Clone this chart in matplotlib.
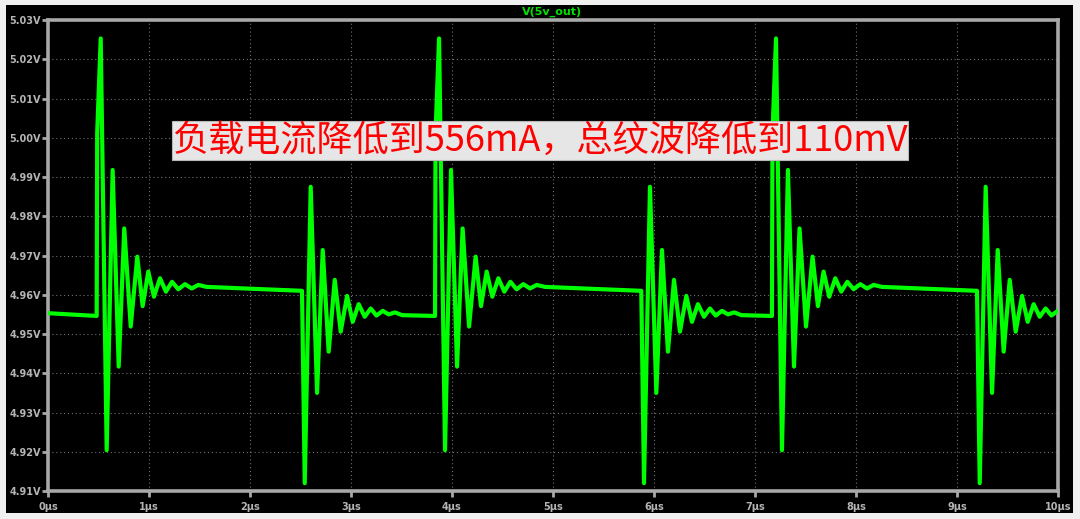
import numpy as np
import matplotlib
matplotlib.use("Agg")
import matplotlib.pyplot as plt
from matplotlib.patches import Rectangle

# ---------------- data ----------------
# time in microseconds, voltage in volts
title_text = "V(5v_out)"
note_text = "负载电流降低到556mA，总纹波降低到110mV"

x_ticks_us = [0, 1, 2, 3, 4, 5, 6, 7, 8, 9, 10]
x_tick_labels = [f"{v}μs" for v in x_ticks_us]
y_ticks_v = [4.91, 4.92, 4.93, 4.94, 4.95, 4.96, 4.97, 4.98, 4.99, 5.00, 5.01, 5.02, 5.03]
y_tick_labels = ["4.91V", "4.92V", "4.93V", "4.94V", "4.95V", "4.96V", "4.97V",
                 "4.98V", "4.99V", "5.00V", "5.01V", "5.02V", "5.03V"]

# start of the trace
start_t = [0.0]
start_v = [4.9553]

# times of the load-step edges
up_step_us = [0.482, 3.832, 7.168]
down_step_us = [2.515, 5.874, 9.198]

# ringing after an upward step (offset from the edge, value)
up_dt_us = [0.000, 0.005, 0.040, 0.099, 0.158, 0.218, 0.273, 0.337, 0.402, 0.455,
            0.511, 0.567, 0.627, 0.686, 0.746, 0.808, 0.874, 0.941, 1.006, 1.089]
up_v = [4.9546, 5.0012, 5.0253, 4.9204, 4.9918, 4.9417, 4.9769, 4.9519, 4.9697, 4.9571,
        4.9659, 4.9595, 4.9642, 4.9608, 4.9633, 4.9614, 4.9627, 4.9616, 4.9625, 4.9620]

# ringing after a downward step (offset from the edge, value)
down_dt_us = [0.000, 0.027, 0.086, 0.149, 0.205, 0.264, 0.324, 0.383, 0.446,
              0.502, 0.561, 0.621, 0.680, 0.737, 0.799, 0.858, 0.921, 0.990]
down_v = [4.9610, 4.9120, 4.9875, 4.9350, 4.9714, 4.9455, 4.9638, 4.9506, 4.9597,
          4.9531, 4.9576, 4.9544, 4.9565, 4.9547, 4.9559, 4.9550, 4.9555, 4.9548]

# ---------------- build the trace ----------------
t = list(start_t)
v = list(start_v)
events = sorted([(s, "up") for s in up_step_us] + [(s, "down") for s in down_step_us])
for s, kind in events:
    if kind == "up":
        t += [s + d for d in up_dt_us]
        v += list(up_v)
    else:
        t += [s + d for d in down_dt_us]
        v += list(down_v)
t = np.array(t)
v = np.array(v)

# ---------------- figure ----------------
W, H = 1080, 519
fig = plt.figure(figsize=(W / 100, H / 100), dpi=100, facecolor="#f0f0f0")

# black panel inside the light border
fig.patches.append(Rectangle((6 / W, (H - 513) / H), 1067 / W, 508 / H,
                             transform=fig.transFigure, facecolor="black",
                             edgecolor="none", zorder=-5))

ax = fig.add_axes([48 / W, (H - 491) / H, 1010 / W, 471 / H])
ax.set_zorder(1)
ax.set_facecolor("black")
ax.plot(t, v, color="#00ff00", lw=3.0, solid_joinstyle="round",
        solid_capstyle="round", zorder=3)

ax.set_xlim(0, 10)
ax.set_ylim(4.91, 5.03)
ax.set_xticks(x_ticks_us)
ax.set_xticklabels(x_tick_labels)
ax.set_yticks(y_ticks_v)
ax.set_yticklabels(y_tick_labels)

frame_col = "#a8a8a8"
for sp in ax.spines.values():
    sp.set_color(frame_col)
    sp.set_linewidth(2.6)
ax.tick_params(axis="both", direction="out", length=4, width=2,
               color=frame_col, labelcolor="#b4b4b4", labelsize=7)
ax.tick_params(axis="y", pad=1)
ax.tick_params(axis="x", pad=4)
for lab in ax.get_xticklabels() + ax.get_yticklabels():
    lab.set_fontweight("bold")

ax.grid(True, color="#707070", linestyle=(0, (1, 2.5)), linewidth=0.8)
ax.set_axisbelow(True)

fig.text(552 / W, 1 - 12 / H, title_text, color="#00e000", fontsize=8,
         fontweight="bold", ha="center", va="center")

# annotation box
fig.patches.append(Rectangle((172 / W, (H - 160) / H), 736 / W, 39 / H,
                             transform=fig.transFigure, facecolor="#e6e6e6",
                             edgecolor="#b8b8b8", linewidth=0.8, zorder=5))
fig.text(540 / W, 1 - 141 / H, note_text, color="#ff0000", fontsize=26,
         family=["Noto Sans CJK SC", "DejaVu Sans"], ha="center", va="center",
         zorder=6)

fig.savefig("out.png", dpi=100, facecolor=fig.get_facecolor())
